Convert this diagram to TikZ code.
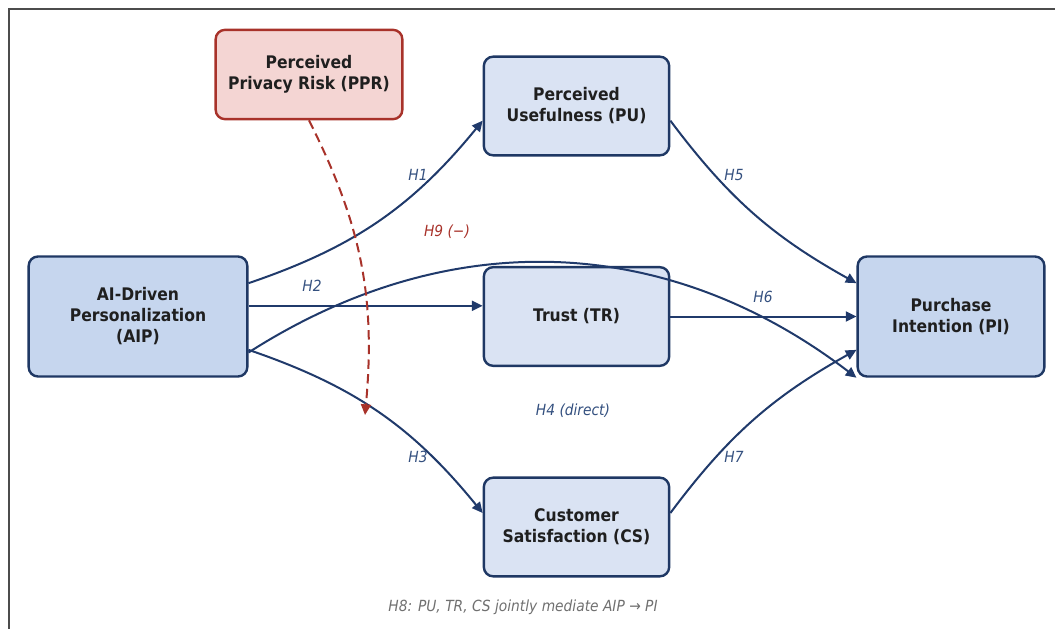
\documentclass[tikz,border=0pt]{standalone}
\usepackage{fontspec}
\setmainfont{DejaVu Sans}[FakeStretch=0.9]
\usepackage{xcolor}
\usepackage{tikz}
\usetikzlibrary{arrows.meta,positioning}

\definecolor{navy}{HTML}{1F3864}
\definecolor{edgeblue}{HTML}{203A6B}
\definecolor{lblblue}{HTML}{34507F}
\definecolor{boxdark}{HTML}{C6D6EE}
\definecolor{boxlight}{HTML}{DAE3F3}
\definecolor{riskfill}{HTML}{F4D5D3}
\definecolor{riskred}{HTML}{A8322A}
\definecolor{capgray}{HTML}{707070}

\begin{document}
\begin{tikzpicture}[x=0.75pt, y=-0.75pt,
    box/.style={draw=navy, line width=1.8pt, rounded corners=7pt, align=center,
      inner sep=0pt, text=black!88, font=\fontsize{13}{15.75}\selectfont\bfseries},
    link/.style={draw=edgeblue, line width=1.5pt, -{Triangle[length=8pt,width=7.5pt]}},
    hlabel/.style={text=lblblue, font=\fontsize{11.5}{13}\selectfont\itshape}]
  \useasboundingbox (0,0) rectangle (1055,629);
  % Frame
  \draw[black!70, line width=1pt] (1055,9) -- (9,9) -- (9,629);
  % Constructs
  \node[box, fill=boxdark, minimum width=164pt, minimum height=90pt] (aip) at (138,316.5)
      {AI-Driven\\Personalization\\(AIP)};
  \node[box, fill=riskfill, draw=riskred, minimum width=140pt, minimum height=67pt] (ppr) at (309,74.5)
      {Perceived\\Privacy Risk (PPR)};
  \node[box, fill=boxlight, minimum width=139pt, minimum height=74pt] (pu) at (576.5,106)
      {Perceived\\Usefulness (PU)};
  \node[box, fill=boxlight, minimum width=139pt, minimum height=74pt] (tr) at (576.5,316.5)
      {Trust (TR)};
  \node[box, fill=boxlight, minimum width=139pt, minimum height=74pt] (cs) at (576.5,527)
      {Customer\\Satisfaction (CS)};
  \node[box, fill=boxdark, minimum width=140pt, minimum height=90pt] (pi) at (951,316.5)
      {Purchase\\Intention (PI)};
  % Paths AIP -> mediators
  \draw[link] ([yshift=25pt]aip.east) to[bend right=16] ([yshift=-11pt]pu.west);
  \draw[link] ([yshift=8pt]aip.east) -- ([yshift=8pt]tr.west);
  \draw[link] ([yshift=-25pt]aip.east) to[bend left=16] ([yshift=10.5pt]cs.west);
  % Direct path
  \draw[link] ([yshift=-27pt]aip.east) to[bend left=35] (pi.south west);
  % Mediators -> PI
  \draw[link] ([yshift=-11pt]pu.east) to[bend right=12] ([yshift=25pt]pi.west);
  \draw[link] (tr.east) -- (pi.west);
  \draw[link] ([yshift=10.5pt]cs.east) to[bend left=12] ([yshift=-25pt]pi.west);
  % Moderation by privacy risk
  \coordinate (h9end) at (365,415);
  \draw[draw=riskred, line width=1.5pt, dash pattern=on 7pt off 4pt,
      -{Triangle[length=8pt,width=7.5pt]}] (ppr.south) to[bend left=16] (h9end);
  % Hypothesis labels
  \node[hlabel] (h1) at (418,175) {H1};
  \node[hlabel] (h2) at (312,286) {H2};
  \node[hlabel] (h3) at (418,457) {H3};
  \node[hlabel] (h4) at (573,411) {H4 (direct)};
  \node[hlabel] (h5) at (734,175) {H5};
  \node[hlabel] (h6) at (763,297) {H6};
  \node[hlabel] (h7) at (734,457) {H7};
  \node[hlabel, text=riskred] (h9) at (447,232) {H9 (−)};
  \node[hlabel, text=capgray] (h8) at (523,607) {H8: PU, TR, CS jointly mediate AIP → PI};
\end{tikzpicture}
\end{document}
